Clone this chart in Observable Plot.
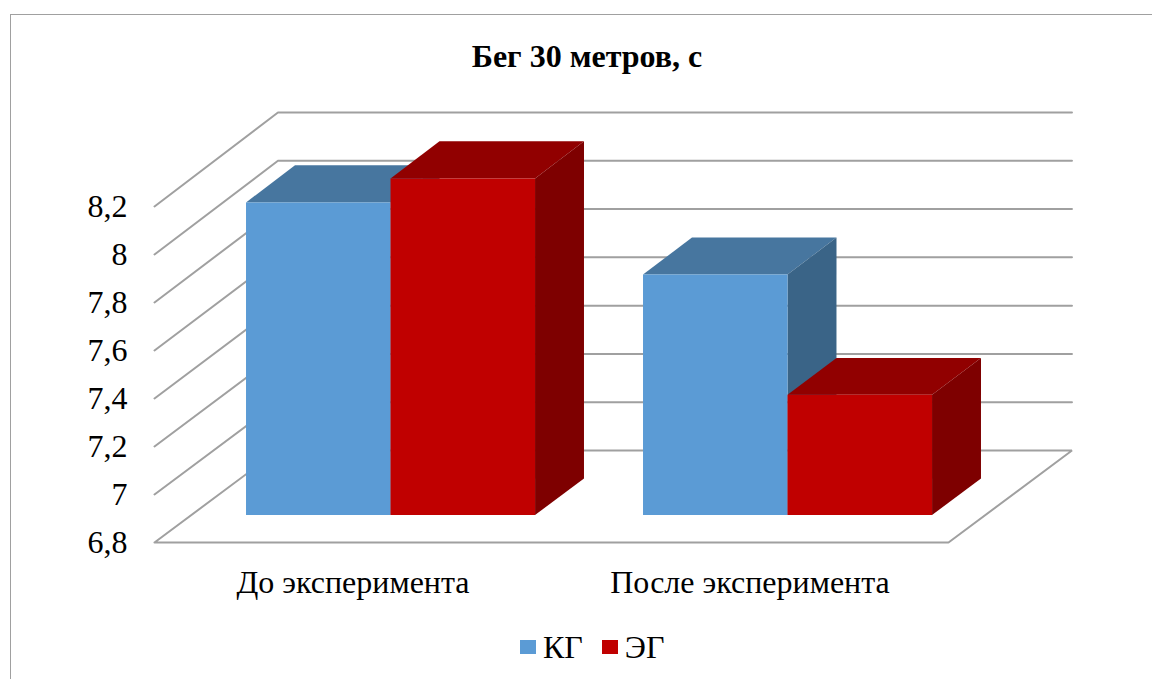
<!DOCTYPE html>
<html lang="ru">
<head>
<meta charset="utf-8">
<title>Бег 30 метров, с</title>
<script src="https://cdn.jsdelivr.net/npm/d3@7"></script>
<script src="https://cdn.jsdelivr.net/npm/@observablehq/plot@0.6"></script>
<style>
  html, body { margin: 0; padding: 0; background: #fff; }
  #chart { position: relative; width: 1152px; height: 679px; overflow: hidden;
           font-family: "Liberation Serif", serif; color: #000; }
  #border { position: absolute; left: 10px; top: 14px; right: -4px; bottom: -4px;
            border: 1.5px solid #a0a0a0; }
  #title { position: relative; height: 100px; box-sizing: border-box; padding-left: 22px;
           text-align: center; font-size: 32px; font-weight: bold; line-height: 112px; margin: 0; }
  #plot svg { display: block; position: relative; }
  #legend { position: relative; display: flex; justify-content: flex-start; align-items: center;
            margin-left: 520px; height: 54px; font-size: 32px; }
  #legend i { display: inline-block; width: 16px; height: 14px; margin-right: 7px; }
  #legend span { display: inline-flex; align-items: center; margin-right: 19px; }
</style>
</head>
<body>
<div id="chart">
  <div id="border"></div>
  <h1 id="title">Бег 30 метров, с</h1>
  <div id="plot"></div>
  <div id="legend"></div>
</div>
<script>
// Values of the chart
const categories = ["До эксперимента", "После эксперимента"];
const seriesNames = ["КГ", "ЭГ"];
const kgValues = [8.1, 7.8];
const egValues = [8.2, 7.3];
const yTicks = [6.8, 7, 7.2, 7.4, 7.6, 7.8, 8, 8.2];

// Shades of each series: front, top and side faces
const kgShades = ["#5b9bd5", "#47769f", "#3a6487"];
const egShades = ["#c00000", "#910000", "#7e0000"];

const yBase = yTicks[0];

// Oblique projection: depth d (0 = front of the floor, 1 = back wall)
// shifts a point right in category units and up in value units, with a
// slight perspective that stretches the value axis towards the back.
const shiftX = 0.311;
const shiftY = 0.3833;
const stretch = 0.006;
const px = (x, d) => x + d * shiftX;
const py = (y, d) => y + d * (shiftY + (y - yBase) * stretch);

// Bar placement inside a category band, and the depth range of the bars
const barStart = 0.1405;
const barWidth = 0.364;
const depthFront = 0.2935;
const depthBack = 0.69;

// One quad is two rows of an area: each row holds the ends of one edge.
function quad(face, fill, a, b, c, e) {
  return [
    {face, fill, x1: a[0], y1: a[1], x2: e[0], y2: e[1]},
    {face, fill, x1: b[0], y1: b[1], x2: c[0], y2: c[1]}
  ];
}

// Top, side and front faces, painted back to front
const faces = [];
[kgValues, egValues].forEach((values, s) => {
  const [front, top, side] = s === 0 ? kgShades : egShades;
  values.forEach((v, c) => {
    const x0 = c + barStart + s * barWidth;
    const x1 = x0 + barWidth;
    const id = `${s}-${c}`;
    const P = (x, y, d) => [px(x, d), py(y, d)];
    faces.push(...quad(id + "top", top,
      P(x0, v, depthFront), P(x1, v, depthFront), P(x1, v, depthBack), P(x0, v, depthBack)));
    faces.push(...quad(id + "side", side,
      P(x1, yBase, depthFront), P(x1, v, depthFront), P(x1, v, depthBack), P(x1, yBase, depthBack)));
    faces.push(...quad(id + "front", front,
      P(x0, yBase, depthFront), P(x1, yBase, depthFront), P(x1, v, depthFront), P(x0, v, depthFront)));
  });
});

// Grid: a slanted run on the left side wall, then a straight run along the back wall
const grid = yTicks.flatMap(v => {
  const rows = [
    {v, x: px(0, 0), y: py(v, 0)},
    {v, x: px(0, 1), y: py(v, 1)},
    {v, x: px(categories.length, 1), y: py(v, 1)}
  ];
  // The floor is closed along its front and right edges
  if (v === yBase) rows.push(
    {v, x: px(categories.length, 0), y: py(v, 0)},
    {v, x: px(0, 0), y: py(v, 0)}
  );
  return rows;
});

const chart = Plot.plot({
  width: 1152,
  height: 520,
  marginLeft: 154,
  marginRight: 204,
  marginTop: 106,
  marginBottom: 78,
  x: {type: "linear", domain: [0, categories.length], axis: null},
  y: {type: "linear", domain: [yBase, yTicks[yTicks.length - 1]], axis: null},
  style: {background: "transparent", fontFamily: "Liberation Serif, serif", color: "#000", overflow: "visible"},
  marks: [
    Plot.line(grid, {x: "x", y: "y", z: "v", stroke: "#a0a0a0", strokeWidth: 2, strokeLinejoin: "miter"}),
    Plot.area(faces, {x1: "x1", y1: "y1", x2: "x2", y2: "y2", z: "face", fill: "fill"}),
    Plot.axisY({
      ticks: yTicks,
      tickSize: 0,
      tickPadding: 27,
      label: null,
      fontSize: 32,
      tickFormat: d => String(d).replace(".", ",")
    }),
    Plot.axisX({
      ticks: categories.map((_, i) => i + 0.5),
      tickSize: 0,
      tickPadding: 28,
      label: null,
      fontSize: 32,
      tickFormat: d => categories[d - 0.5]
    })
  ]
});
document.getElementById("plot").append(chart);

// Legend below the plot
const legend = d3.select("#legend");
seriesNames.forEach((name, i) => {
  const item = legend.append("span");
  item.append("i").style("background", (i === 0 ? kgShades : egShades)[0]);
  item.append("b").style("font-weight", "normal").text(name);
});
</script>
</body>
</html>
